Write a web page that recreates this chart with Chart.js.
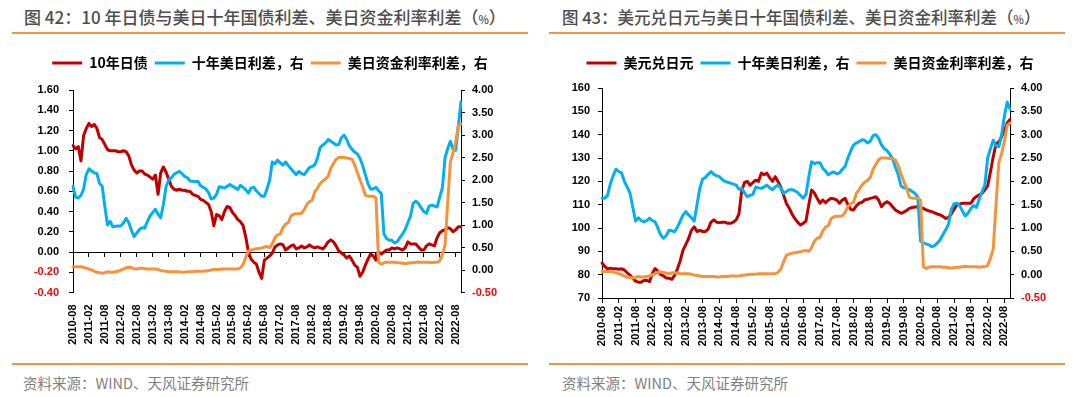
<!DOCTYPE html>
<html lang="zh-CN">
<head>
<meta charset="utf-8">
<title>图42 / 图43</title>
<script src="https://cdn.jsdelivr.net/npm/chart.js@4.4.1/dist/chart.umd.min.js"></script>
<style>
  html, body { margin: 0; padding: 0; background: #fff; }
  body { width: 1080px; height: 397px; position: relative; overflow: hidden; font-family: "Noto Sans CJK SC", sans-serif; }
  .panel { position: absolute; top: 0; width: 540px; height: 397px; }
  .title { position: absolute; top: 5px; font-size: 16.5px; line-height: 24px; color: #4d4d4d; font-weight: 500; white-space: nowrap; }
  .title small { font-size: 11px; }
  .rule { position: absolute; height: 2px; width: 516px; background: #F5923E; }
  .rule.top { top: 32px; }
  .rule.bottom { top: 363px; }
  .chart-box { position: absolute; left: 0; top: 40px; width: 540px; height: 320px; }
  .source { position: absolute; top: 373px; font-size: 14.5px; line-height: 20px; color: #7f7f7f; white-space: nowrap; }
</style>
</head>
<body>
<div class="panel" style="left:0">
  <div class="title" style="left:24px; font-size:17px">图 42：10 年日债与美日十年国债利差、美日资金利率利差（<small>%</small>）</div>
  <div class="rule top" style="left:12px"></div>
  <div class="chart-box"><canvas id="fig42"></canvas></div>
  <div class="rule bottom" style="left:12px"></div>
  <div class="source" style="left:23px">资料来源：WIND、天风证券研究所</div>
</div>
<div class="panel" style="left:540px">
  <div class="title" style="left:22px">图 43：美元兑日元与美日十年国债利差、美日资金利率利差（<small>%</small>）</div>
  <div class="rule top" style="left:9px"></div>
  <div class="chart-box"><canvas id="fig43"></canvas></div>
  <div class="rule bottom" style="left:9px"></div>
  <div class="source" style="left:22px">资料来源：WIND、天风证券研究所</div>
</div>
<script>
// monthly, 2010-08 .. 2022-10
const months = [
  '2010-08', '2010-09', '2010-10', '2010-11', '2010-12',
  '2011-01', '2011-02', '2011-03', '2011-04', '2011-05', '2011-06', '2011-07', '2011-08', '2011-09', '2011-10', '2011-11', '2011-12',
  '2012-01', '2012-02', '2012-03', '2012-04', '2012-05', '2012-06', '2012-07', '2012-08', '2012-09', '2012-10', '2012-11', '2012-12',
  '2013-01', '2013-02', '2013-03', '2013-04', '2013-05', '2013-06', '2013-07', '2013-08', '2013-09', '2013-10', '2013-11', '2013-12',
  '2014-01', '2014-02', '2014-03', '2014-04', '2014-05', '2014-06', '2014-07', '2014-08', '2014-09', '2014-10', '2014-11', '2014-12',
  '2015-01', '2015-02', '2015-03', '2015-04', '2015-05', '2015-06', '2015-07', '2015-08', '2015-09', '2015-10', '2015-11', '2015-12',
  '2016-01', '2016-02', '2016-03', '2016-04', '2016-05', '2016-06', '2016-07', '2016-08', '2016-09', '2016-10', '2016-11', '2016-12',
  '2017-01', '2017-02', '2017-03', '2017-04', '2017-05', '2017-06', '2017-07', '2017-08', '2017-09', '2017-10', '2017-11', '2017-12',
  '2018-01', '2018-02', '2018-03', '2018-04', '2018-05', '2018-06', '2018-07', '2018-08', '2018-09', '2018-10', '2018-11', '2018-12',
  '2019-01', '2019-02', '2019-03', '2019-04', '2019-05', '2019-06', '2019-07', '2019-08', '2019-09', '2019-10', '2019-11', '2019-12',
  '2020-01', '2020-02', '2020-03', '2020-04', '2020-05', '2020-06', '2020-07', '2020-08', '2020-09', '2020-10', '2020-11', '2020-12',
  '2021-01', '2021-02', '2021-03', '2021-04', '2021-05', '2021-06', '2021-07', '2021-08', '2021-09', '2021-10', '2021-11', '2021-12',
  '2022-01', '2022-02', '2022-03', '2022-04', '2022-05', '2022-06', '2022-07', '2022-08', '2022-09', '2022-10',
];

const tickLabels = [
  '2010-08', '2011-02', '2011-08', '2012-02', '2012-08', '2013-02', '2013-08', '2014-02', '2014-08',
  '2015-02', '2015-08', '2016-02', '2016-08', '2017-02', '2017-08', '2018-02', '2018-08', '2019-02',
  '2019-08', '2020-02', '2020-08', '2021-02', '2021-08', '2022-02', '2022-08',
];

// 10年日债 (%), left axis of fig 42
const jgb10y = [
  1.05, 1.02, 1.04, 0.90, 1.15,
  1.22, 1.27, 1.24, 1.26, 1.22, 1.13, 1.11, 1.06, 1.01, 1.00, 1.00, 1.00,
  0.99, 0.99, 1.00, 0.99, 0.95, 0.86, 0.81, 0.78, 0.80, 0.80, 0.77, 0.76,
  0.74, 0.72, 0.76, 0.57, 0.78, 0.84, 0.79, 0.72, 0.65, 0.62, 0.61, 0.62,
  0.61, 0.61, 0.60, 0.60, 0.57, 0.56, 0.55, 0.52, 0.51, 0.49, 0.47, 0.40,
  0.26, 0.37, 0.36, 0.32, 0.40, 0.45, 0.44, 0.39, 0.36, 0.32, 0.30, 0.26,
  0.15, 0.00, -0.07, -0.10, -0.12, -0.20, -0.26, -0.08, -0.06, -0.04, -0.01, 0.05,
  0.07, 0.08, 0.07, 0.02, 0.04, 0.06, 0.07, 0.03, 0.04, 0.06, 0.04, 0.05,
  0.07, 0.05, 0.04, 0.05, 0.04, 0.03, 0.06, 0.10, 0.12, 0.10, 0.06, 0.01,
  -0.01, -0.03, -0.06, -0.04, -0.08, -0.13, -0.15, -0.24, -0.20, -0.13, -0.07, -0.02,
  -0.04, -0.08, 0.00, -0.02, 0.00, 0.02, 0.02, 0.04, 0.03, 0.04, 0.03, 0.02,
  0.04, 0.10, 0.08, 0.08, 0.08, 0.05, 0.02, 0.02, 0.06, 0.08, 0.07, 0.06,
  0.14, 0.19, 0.21, 0.22, 0.24, 0.23, 0.20, 0.22, 0.25, 0.25,
];

// 十年美日利差 (%), as drawn in fig 42
const usJpSpreadFig42 = [
  1.86, 1.62, 1.60, 1.66, 1.80,
  2.12, 2.25, 2.20, 2.16, 2.14, 1.92, 1.86, 1.40, 1.00, 1.08, 0.96, 0.97,
  0.98, 0.98, 1.05, 1.15, 1.05, 0.88, 0.74, 0.82, 0.90, 0.94, 0.93, 1.08,
  1.20, 1.28, 1.35, 1.24, 1.16, 1.45, 1.85, 2.00, 2.05, 2.12, 2.16, 2.19,
  2.14, 2.08, 2.05, 1.98, 1.97, 1.96, 1.97, 1.87, 1.84, 1.80, 1.72, 1.58,
  1.60, 1.68, 1.85, 1.84, 1.82, 1.86, 1.90, 1.86, 1.83, 1.79, 1.88, 1.84,
  1.78, 1.71, 1.82, 1.84, 1.76, 1.70, 1.64, 1.64, 1.80, 2.00, 2.40, 2.36,
  2.44, 2.38, 2.33, 2.40, 2.32, 2.25, 2.18, 2.12, 2.19, 2.14, 2.12, 2.20,
  2.28, 2.30, 2.34, 2.49, 2.72, 2.78, 2.82, 2.90, 2.86, 2.82, 2.78, 2.79,
  2.94, 3.00, 2.90, 2.76, 2.68, 2.62, 2.58, 2.48, 2.32, 2.12, 1.92, 1.80,
  1.80, 1.84, 1.76, 1.70, 0.80, 0.70, 0.66, 0.66, 0.60, 0.63, 0.72, 0.80,
  0.90, 1.05, 1.20, 1.48, 1.53, 1.48, 1.38, 1.30, 1.26, 1.42, 1.44, 1.42,
  1.40, 1.62, 1.83, 2.50, 2.70, 2.86, 2.68, 2.66, 3.20, 3.74,
];

// 十年美日利差 (%), as drawn in fig 43
const usJpSpreadFig43 = [
  1.64, 1.64, 1.70, 1.95, 2.12,
  2.26, 2.21, 2.18, 2.00, 1.88, 1.75, 1.45, 1.15, 1.22, 1.16, 1.13, 1.16,
  1.21, 1.16, 1.13, 1.00, 0.85, 0.78, 0.84, 0.95, 0.94, 0.92, 1.02, 1.15,
  1.28, 1.35, 1.28, 1.22, 1.15, 1.50, 1.85, 2.05, 2.08, 2.15, 2.21, 2.15,
  2.12, 2.10, 2.04, 2.00, 1.98, 1.96, 1.94, 1.92, 1.83, 1.85, 1.75, 1.67,
  1.70, 1.72, 1.88, 1.86, 1.85, 1.88, 1.92, 1.86, 1.82, 1.88, 1.92, 1.85,
  1.74, 1.78, 1.82, 1.82, 1.80, 1.76, 1.70, 1.64, 1.72, 2.10, 2.42, 2.38,
  2.40, 2.40, 2.28, 2.22, 2.14, 2.18, 2.20, 2.16, 2.18, 2.26, 2.32, 2.50,
  2.65, 2.78, 2.82, 2.85, 2.89, 2.88, 2.82, 2.86, 2.98, 3.00, 2.92, 2.78,
  2.70, 2.66, 2.58, 2.48, 2.30, 2.14, 1.90, 1.86, 1.85, 1.82, 1.78, 1.74,
  1.66, 0.72, 0.68, 0.66, 0.64, 0.60, 0.62, 0.68, 0.75, 0.86, 0.96, 1.08,
  1.40, 1.52, 1.53, 1.48, 1.36, 1.26, 1.32, 1.42, 1.48, 1.44, 1.62, 1.78,
  1.92, 2.50, 2.70, 2.88, 2.76, 2.74, 3.00, 3.40, 3.70, 3.55,
];

// 美日资金利率利差 (%), both figures
const fundingSpread = [
  0.07, 0.07, 0.07, 0.07, 0.06,
  0.04, 0.02, 0.00, -0.03, -0.05, -0.06, -0.07, -0.06, -0.04, -0.05, -0.05, -0.04,
  -0.03, 0.00, 0.02, 0.05, 0.06, 0.05, 0.03, 0.02, 0.04, 0.04, 0.03, 0.02,
  0.02, 0.02, 0.02, 0.01, -0.01, -0.02, -0.03, -0.04, -0.04, -0.04, -0.04, -0.04,
  -0.05, -0.05, -0.04, -0.04, -0.04, -0.03, -0.03, -0.03, -0.03, -0.02, -0.01, 0.00,
  0.01, 0.01, 0.01, 0.02, 0.02, 0.02, 0.02, 0.02, 0.02, 0.02, 0.05, 0.12,
  0.28, 0.42, 0.44, 0.46, 0.47, 0.48, 0.49, 0.51, 0.52, 0.50, 0.58, 0.72,
  0.78, 0.80, 0.94, 1.02, 1.05, 1.20, 1.24, 1.25, 1.25, 1.26, 1.34, 1.46,
  1.52, 1.55, 1.74, 1.82, 1.92, 1.98, 2.02, 2.08, 2.26, 2.36, 2.46, 2.50,
  2.50, 2.50, 2.49, 2.48, 2.46, 2.34, 2.16, 2.00, 1.85, 1.66, 1.64, 1.64,
  1.64, 1.60, 0.17, 0.13, 0.16, 0.17, 0.17, 0.17, 0.17, 0.16, 0.16, 0.15,
  0.14, 0.15, 0.16, 0.16, 0.17, 0.18, 0.17, 0.17, 0.17, 0.17, 0.16, 0.17,
  0.17, 0.20, 0.35, 0.55, 1.50, 2.40, 2.60, 2.85, 3.20, 3.25,
];

// 美元兑日元, left axis of fig 43
const usdJpy = [
  85.0, 83.5, 82.5, 82.8, 82.5,
  82.5, 82.3, 82.5, 82.0, 80.8, 79.8, 78.5, 77.2, 76.8, 76.8, 77.5, 77.6,
  77.0, 80.5, 82.6, 81.5, 80.0, 79.5, 78.6, 78.5, 78.0, 79.8, 82.5, 86.0,
  90.5, 93.0, 95.5, 99.0, 100.5, 98.5, 99.0, 98.5, 98.5, 99.5, 102.5, 103.5,
  102.5, 102.3, 102.5, 102.5, 102.0, 102.0, 102.5, 103.5, 106.0, 116.0, 119.5, 120.0,
  118.3, 119.5, 120.5, 120.0, 123.5, 122.8, 123.5, 121.5, 120.0, 122.0, 119.8, 117.5,
  114.0, 110.5, 108.5, 106.0, 104.0, 102.5, 101.3, 102.0, 103.0, 110.0, 116.3, 115.0,
  112.7, 110.6, 112.0, 110.8, 112.0, 112.7, 112.5, 112.0, 110.6, 112.0, 112.7, 110.0,
  108.0, 107.7, 109.5, 110.6, 111.0, 112.0, 112.3, 112.7, 113.0, 113.4, 112.0, 109.1,
  110.5, 111.3, 110.5, 109.1, 107.7, 107.0, 106.3, 106.8, 107.5, 108.4, 108.8, 109.0,
  109.1, 108.8, 108.4, 107.8, 107.3, 107.0, 106.5, 106.0, 105.6, 105.0, 104.1, 104.5,
  106.0, 108.0, 109.9, 110.2, 110.6, 110.6, 110.6, 110.6, 112.5, 113.5, 114.2, 114.9,
  116.3, 118.0, 124.0, 130.5, 136.0, 137.0, 139.0, 142.0, 145.0, 146.5,
];

const red = '#C00000';
const blue = '#00B0F0';
const orange = '#F7923A';
const black = '#000';
const negRed = '#FF0000';
const cjk = '"Noto Sans CJK SC", sans-serif';

Chart.defaults.font.family = "'Liberation Sans', Arial, sans-serif";
Chart.defaults.font.size = 11;
Chart.defaults.font.weight = 'bold';
Chart.defaults.color = black;

// extra space between the legend row and the plot
const legendGap = {
  id: 'legendGap',
  beforeInit(chart, _args, opts) {
    const fit = chart.legend.fit;
    chart.legend.fit = function () {
      fit.call(this);
      this.height += opts.gap || 0;
    };
  },
};

const keepLabelTicks = (scale) => {
  scale.ticks = scale.ticks.filter((t) => tickLabels.includes(months[t.value]));
};

const line = (label, data, color, yAxisID, order) => ({
  label, data, yAxisID, order,
  borderColor: color,
  backgroundColor: color,
  borderWidth: 3,
  pointRadius: 0,
  pointHoverRadius: 0,
  tension: 0,
  borderJoinStyle: 'round',
  borderCapStyle: 'round',
  fill: false,
});

const fixed2 = (v) => (Math.abs(v) < 1e-9 ? 0 : v).toFixed(2);
const whole = (v) => Math.round(v).toString();
const negColor = (ctx) => (ctx.tick.value < -1e-9 ? negRed : black);

const yAxis = (position, min, max, step, width, pad, fmt) => ({
  position, min, max,
  grid: { drawOnChartArea: false, drawTicks: true, tickLength: 4, color: black },
  border: { color: black, width: 1 },
  ticks: { stepSize: step, padding: pad, callback: fmt, color: negColor },
  afterFit: (s) => { s.width = width; },
});

const xLabels = {
  autoSkip: false,
  minRotation: 90,
  maxRotation: 90,
};

const plugins = (gap) => ({
  legend: {
    position: 'top',
    labels: {
      boxWidth: 30,
      boxHeight: 3,
      padding: 7,
      color: black,
      font: { family: cjk, size: 14, weight: 'bold' },
      sort: (a, b) => a.datasetIndex - b.datasetIndex,
      generateLabels: (chart) =>
        Chart.defaults.plugins.legend.labels.generateLabels(chart).map((l) => ({ ...l, lineWidth: 0 })),
    },
  },
  legendGap: { gap },
  tooltip: { enabled: false },
});

new Chart(document.getElementById('fig42'), {
  type: 'line',
  data: {
    labels: months,
    datasets: [
      line('10年日债', jgb10y, red, 'y', 3),
      line('十年美日利差，右', usJpSpreadFig42, blue, 'y1', 2),
      line('美日资金利率利差，右', fundingSpread, orange, 'y1', 1),
    ],
  },
  options: {
    responsive: true,
    maintainAspectRatio: false,
    animation: false,
    layout: { padding: { top: 9, left: 0, right: 0, bottom: 0 } },
    scales: {
      x: {
        type: 'category',
        position: 'bottom',
        grid: { display: false, drawTicks: false },
        border: { display: false },
        ticks: { ...xLabels, padding: 12 },
        afterBuildTicks: keepLabelTicks,
        afterFit: (s) => { s.height = 67.5; },
      },
      // axis line + tick marks sitting on the zero of the left axis
      xZero: {
        type: 'category',
        position: { y: 0 },
        grid: { drawOnChartArea: false, drawTicks: true, tickLength: 4, color: black },
        border: { color: black, width: 1 },
        ticks: { display: false, autoSkip: false },
        afterBuildTicks: keepLabelTicks,
      },
      y: yAxis('left', -0.4, 1.6, 0.2, 73, 10, fixed2),
      y1: yAxis('right', -0.5, 4, 0.5, 79, 7, fixed2),
    },
    plugins: plugins(10),
  },
  plugins: [legendGap],
});

new Chart(document.getElementById('fig43'), {
  type: 'line',
  data: {
    labels: months,
    datasets: [
      line('美元兑日元', usdJpy, red, 'y', 3),
      line('十年美日利差，右', usJpSpreadFig43, blue, 'y1', 2),
      line('美日资金利率利差，右', fundingSpread, orange, 'y1', 1),
    ],
  },
  options: {
    responsive: true,
    maintainAspectRatio: false,
    animation: false,
    layout: { padding: { top: 9, left: 0, right: 0, bottom: 0 } },
    scales: {
      x: {
        type: 'category',
        position: 'bottom',
        grid: { drawOnChartArea: false, drawTicks: true, tickLength: 5, color: black },
        border: { color: black, width: 1 },
        ticks: { ...xLabels, padding: 3 },
        afterBuildTicks: keepLabelTicks,
        afterFit: (s) => { s.height = 62; },
      },
      y: yAxis('left', 70, 160, 10, 62, 8, whole),
      y1: yAxis('right', -0.5, 4, 0.5, 70, 7, fixed2),
    },
    plugins: plugins(8),
  },
  plugins: [legendGap],
});
</script>
</body>
</html>
